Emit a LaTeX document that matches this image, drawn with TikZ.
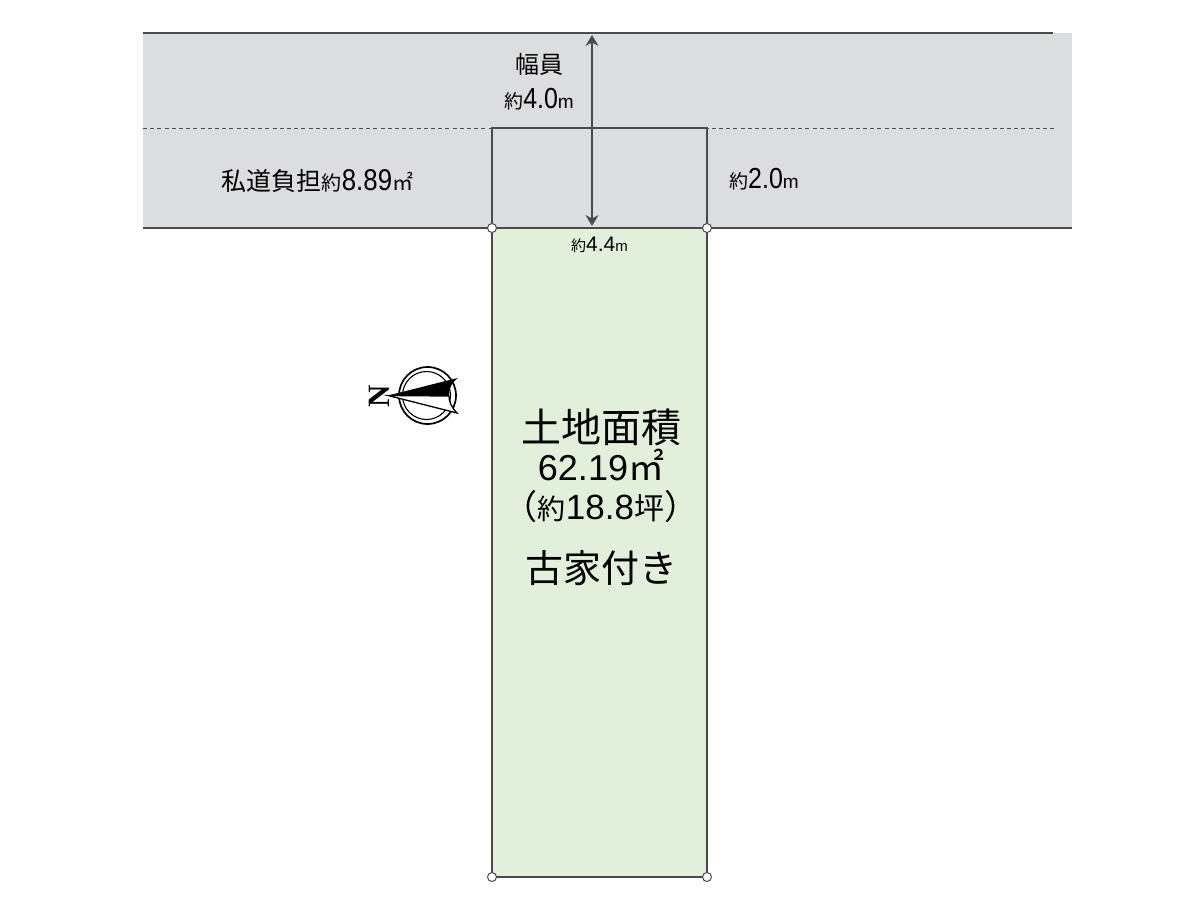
\documentclass[tikz,border=0pt]{standalone}
\usepackage{fontspec}
\setmainfont{Liberation Sans}
\newfontfamily\jpfont{Noto Sans CJK JP}
\newfontfamily\nfont{Liberation Serif}
\newfontfamily\condfont[FakeStretch=0.86]{Liberation Sans}
\usetikzlibrary{positioning,arrows.meta}
\definecolor{roadgray}{HTML}{DCDDDF}
\definecolor{plotgreen}{HTML}{E2EFDA}
\definecolor{linegray}{HTML}{4A4A4A}
\newcommand{\fs}[1]{\fontsize{#1}{#1}\selectfont}
\newcommand{\jp}[2]{{\jpfont\fs{#1}#2}}
\newcommand{\nm}[2]{{\fs{#1}#2}}
\newcommand{\cn}[2]{{\condfont\fs{#1}#2}}
\tikzset{
  boundary/.style = {draw=linegray, line width=1.1pt, inner sep=0pt, outer sep=0pt},
  corner/.style = {circle, draw=linegray, fill=white, line width=1pt, minimum size=9pt, inner sep=0pt},
  label text/.style = {inner sep=0pt, text=black, align=center},
  dim arrow/.style = {{Stealth[length=11pt,width=13pt]}-{Stealth[length=11pt,width=13pt]}, draw=linegray, line width=1.1pt}
}
\begin{document}
\begin{tikzpicture}[x=1pt, y=-1pt]
    \useasboundingbox (0,0) rectangle (1200,900);
    % Road
    \node[fill=roadgray, minimum width=929, minimum height=195, inner sep=0pt, outer sep=0pt, anchor=north west] (road) at (143,33) {};
    \coordinate (topEnd) at (1053,33);
    \coordinate (dashL) at (143,128.5);
    \coordinate (dashR) at (1054,128.5);
    \draw[linegray, line width=1.1pt] (road.north west) -- (topEnd);
    \draw[linegray, line width=1.1pt] (road.south west) -- (road.south east);
    \draw[linegray, line width=1pt, dash pattern=on 4pt off 3.2pt] (dashL) -- (dashR);

    % Plot
    \node[boundary, fill=plotgreen, minimum width=215, minimum height=649, anchor=north west] (plot) at (492,228) {};
    \node[boundary, fill=roadgray, minimum width=215, minimum height=100, above=0pt of plot] (access) {};
    \draw[linegray, line width=1.1pt] (plot.north west) -- (plot.north east);
    \node[corner] (cornerA) at (plot.north west) {};
    \node[corner] (cornerB) at (plot.north east) {};
    \node[corner] (cornerC) at (plot.south west) {};
    \node[corner] (cornerD) at (plot.south east) {};

    % Width
    \coordinate (widthTop) at (592,35);
    \coordinate (widthBot) at (592,226);
    \draw[dim arrow] (widthTop) -- (widthBot);
    \node[label text] (widthName) at (539,64) {\jp{24}{幅員}};
    \node[label text, below=13pt of widthName] (widthVal) {\jp{19}{約}\cn{29}{4.0}\nm{19}{m}};
    \node[label text] (roadShare) at (317.5,181) {\jp{25}{私道負担}\jp{20}{約}\cn{30}{8.89}\jp{21}{㎡}};
    \node[label text, right=22pt of access.east, yshift=-1pt] (accessVal) {\jp{19}{約}\cn{29}{2.0}\nm{19}{m}};
    \node[label text, below=9pt of plot.north, xshift=0pt] (frontVal) {\jp{15}{約}\nm{21}{4.4}\nm{15}{m}};

    % Land
    \node[label text] (landName) at (601,427) {\jp{40}{土地面積}};
    \node[label text, below=3pt of landName] (landArea) {\nm{36}{62.19}\jp{36}{㎡}};
    \node[label text, below=9pt of landArea] (landTsubo) {\jp{34}{（}\jp{28}{約}\nm{35}{18.8}\jp{30}{坪}\jp{34}{）}};
    \node[label text, below=28pt of landTsubo] (landNote) {\jp{38}{古家付き}};

    % North mark
    \coordinate (compass) at (427.5,395.5);
    \draw[black, line width=1.7pt] (compass) circle (28.5);
    \draw[black, line width=1.1pt] (compass) ++(-1,0) circle (24);
    \fill[black] (388,395.5) -- (457.5,378) .. controls (450,385) and (449,390) .. (449,396) -- cycle;
    \draw[black, line width=1.3pt, fill=white] (388,395.5) -- (457,413) .. controls (451,407) and (449,401) .. (449,396) -- cycle;
    \node[label text, rotate=90] (north) at (379,396) {\nfont\bfseries\fs{31}N};
\end{tikzpicture}
\end{document}
